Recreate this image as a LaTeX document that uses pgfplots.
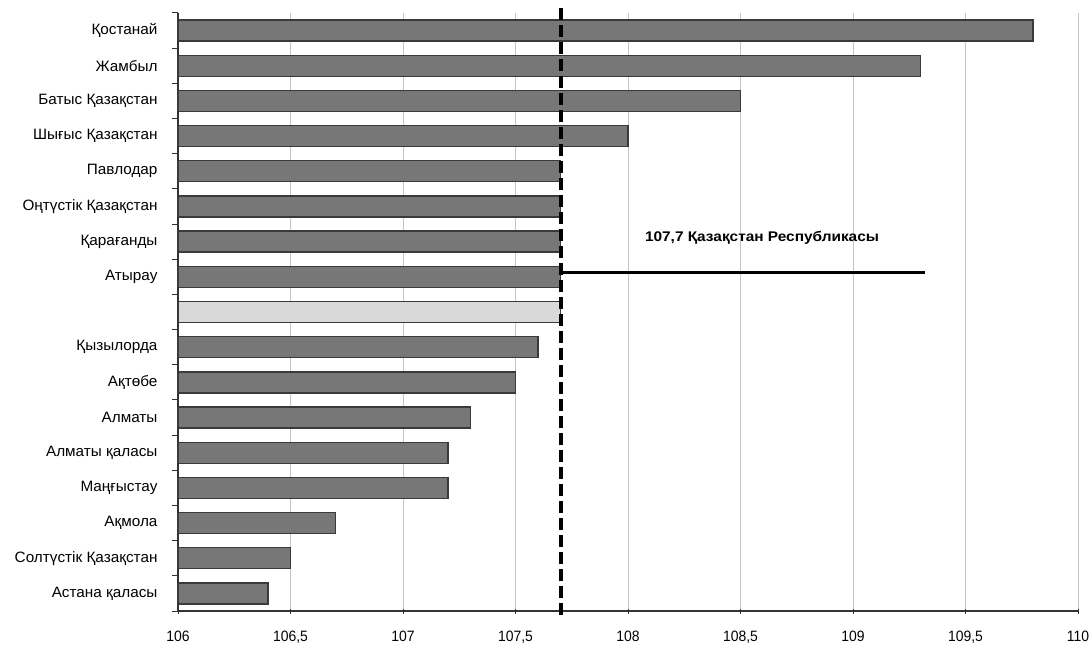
\documentclass[border=0pt]{standalone}
\usepackage{pgfplots}
\pgfplotsset{compat=1.18}
\usepackage{fontspec}
\setmainfont{Liberation Sans}[FakeStretch=1.02]
\newfontfamily\tickfont{Liberation Sans}[FakeStretch=0.93]
\newfontfamily\annfont{Liberation Sans}[FakeStretch=1.1]
\definecolor{bardark}{HTML}{777777}
\definecolor{barline}{HTML}{3A3A3A}
\definecolor{barlight}{HTML}{D9D9D9}
\definecolor{gridc}{HTML}{C4C4C4}
\definecolor{axisc}{HTML}{333333}
\begin{document}
\begin{tikzpicture}
\useasboundingbox (-178pt,-35pt) rectangle (913pt,611pt);
\pgfplotsset{common/.style={scale only axis, width=900pt, height=598pt,
  xmin=106, xmax=110, ymin=-0.5, ymax=16.5, at={(0pt,0pt)}, anchor=south west}}
\begin{axis}[common,
  xbar, bar width=21pt, bar shift=0pt,
  axis x line=bottom, axis y line=left,
  axis line style={-, axisc, line width=1.3pt},
  xtick distance=0.5,
  xmajorgrids, major grid style={gridc, line width=1pt},
  xtick align=center, ytick align=outside,
  major x tick style={axisc, line width=1pt},
  major tick length=5pt,
  ytick={0,...,16},
  yticklabels={Астана қаласы, Солтүстік Қазақстан, Ақмола, Маңғыстау, Алматы қаласы, Алматы, Ақтөбе, Қызылорда, {}, Атырау, Қарағанды, Оңтүстік Қазақстан, Павлодар, Шығыс Қазақстан, Батыс Қазақстан, Жамбыл, Қостанай},
  major y tick style={draw=none},
  minor ytick={-0.5,0.5,...,16.5},
  minor y tick style={axisc, line width=1pt},
  minor tick length=6pt,
  yticklabel style={font=\fontsize{15}{17}\selectfont, xshift=-12pt},
  xticklabel style={font=\tickfont\fontsize{15}{17}\selectfont, yshift=-14pt,
    /pgf/number format/.cd, use comma, 1000 sep={}},
  /pgf/number format/assume math mode=true,
]
\addplot[fill=bardark, draw=barline, line width=1.4pt] coordinates {
(109.8,16) (109.3,15) (108.5,14) (108.0,13) (107.7,12) (107.7,11) (107.7,10) (107.7,9)
(107.6,7) (107.5,6) (107.3,5) (107.2,4) (107.2,3) (106.7,2) (106.5,1) (106.4,0)};
\addplot[fill=barlight, draw=barline, line width=1.4pt] coordinates {(107.7,8)};
\addplot[sharp plot, forget plot, black, line width=2.8pt, mark=none] coordinates {(107.7,9.12) (109.32,9.12)};
\node[anchor=west, font=\annfont\bfseries\fontsize{14}{16}\selectfont] at (axis cs:108.06,10.11) {107,7 Қазақстан Республикасы};
\end{axis}
\begin{axis}[common, hide axis, clip=false]
\addplot[black, line width=4pt, dash pattern=on 12pt off 5pt, mark=none] coordinates {(107.7,16.63) (107.7,-0.64)};
\end{axis}
\end{tikzpicture}
\end{document}
